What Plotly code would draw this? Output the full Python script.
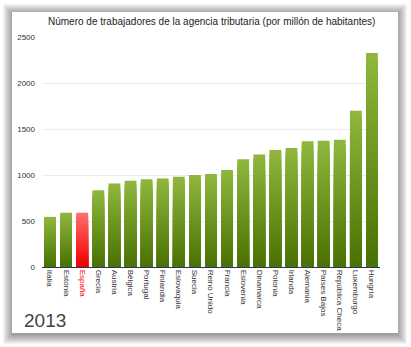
import plotly.graph_objects as go

# Tax agency staff per million inhabitants, 2013
countries = ["Italia", "Estonia", "España", "Grecia", "Austria", "Bélgica", "Portugal",
             "Finlandia", "Eslovaquia", "Suecia", "Reino Unido", "Francia", "Eslovenia",
             "Dinamarca", "Polonia", "Irlanda", "Alemania", "Países Bajos",
             "República Checa", "Luxemburgo", "Hungría"]
workers = [545, 590, 590, 835, 908, 937, 955, 963, 980, 999, 1010, 1053, 1170,
           1224, 1271, 1293, 1366, 1373, 1383, 1699, 2325]
highlight = "España"
y_ticks = [0, 500, 1000, 1500, 2000, 2500]
year_label = "2013"
title = "Número de trabajadores de la agencia tributaria (por millón de habitantes)"

W, H = 411, 347
L, R, T, B = 42, 31, 37, 80
PW, PH = W - L - R, H - T - B


def px_x(px):
    return (px - L) / PW


def px_y(py):
    return (H - B - py) / PH


def mix(c1, c2, t):
    return "rgb(%d,%d,%d)" % tuple(round(a + (b - a) * t) for a, b in zip(c1, c2))


green_top, green_bot = (143, 182, 60), (74, 114, 4)
red_top, red_bot = (255, 110, 110), (240, 0, 0)

fig = go.Figure()

# vertical gradient on each bar: stacked overlays, shrinking and darkening
N = 28
for k in range(N):
    t = k / (N - 1)
    frac = 1 - k / N
    colors = [mix(red_top, red_bot, t) if c == highlight else mix(green_top, green_bot, t)
              for c in countries]
    fig.add_trace(go.Bar(
        x=countries, y=[v * frac for v in workers],
        marker=dict(color=colors, line=dict(width=0)),
        hoverinfo="skip", showlegend=False,
    ))

ticktext = ['<span style="color:#ff0000">%s</span>' % c if c == highlight else c
            for c in countries]

# card with soft drop shadow
shapes = []
cx0, cy0, cx1, cy1 = 12, 12, 398, 333
for i in range(10, 0, -1):
    shapes.append(dict(
        type="rect", xref="paper", yref="paper", layer="below",
        x0=px_x(cx0 - i + 1), x1=px_x(cx1 + i - 1),
        y0=px_y(cy1 + i + 1), y1=px_y(cy0 - i + 2),
        fillcolor="rgba(0,0,0,0.045)", line=dict(width=0),
    ))
shapes.append(dict(
    type="rect", xref="paper", yref="paper", layer="below",
    x0=px_x(cx0), x1=px_x(cx1), y0=px_y(cy1), y1=px_y(cy0),
    fillcolor="white", line=dict(width=0),
))

fig.update_layout(
    width=W, height=H,
    margin=dict(l=L, r=R, t=T, b=B),
    paper_bgcolor="white", plot_bgcolor="rgba(0,0,0,0)",
    barmode="overlay", bargap=0.27,
    font=dict(family="Liberation Sans, Arial, sans-serif", color="#333"),
    shapes=shapes,
    annotations=[
        dict(text=title, xref="paper", yref="paper", x=px_x(211), y=px_y(22),
             xanchor="center", yanchor="middle", showarrow=False,
             font=dict(size=10, color="#222")),
        dict(text=year_label, xref="paper", yref="paper", x=px_x(22), y=px_y(320),
             xanchor="left", yanchor="middle", showarrow=False,
             font=dict(size=19, color="#444")),
    ],
)
fig.update_xaxes(
    tickmode="array", tickvals=countries, ticktext=ticktext,
    tickangle=90, tickfont=dict(size=8, color="#333"),
    showline=True, linecolor="#1f3a5c", linewidth=1.2,
    showgrid=False, ticks="", fixedrange=True,
)
fig.update_yaxes(
    range=[0, 2500], tickvals=y_ticks, tickfont=dict(size=8, color="#333"),
    showgrid=True, gridcolor="#ececec", gridwidth=1, zeroline=False,
    ticks="", ticklabelstandoff=6, fixedrange=True,
)

fig.write_html("out.html", config={"displayModeBar": False})
